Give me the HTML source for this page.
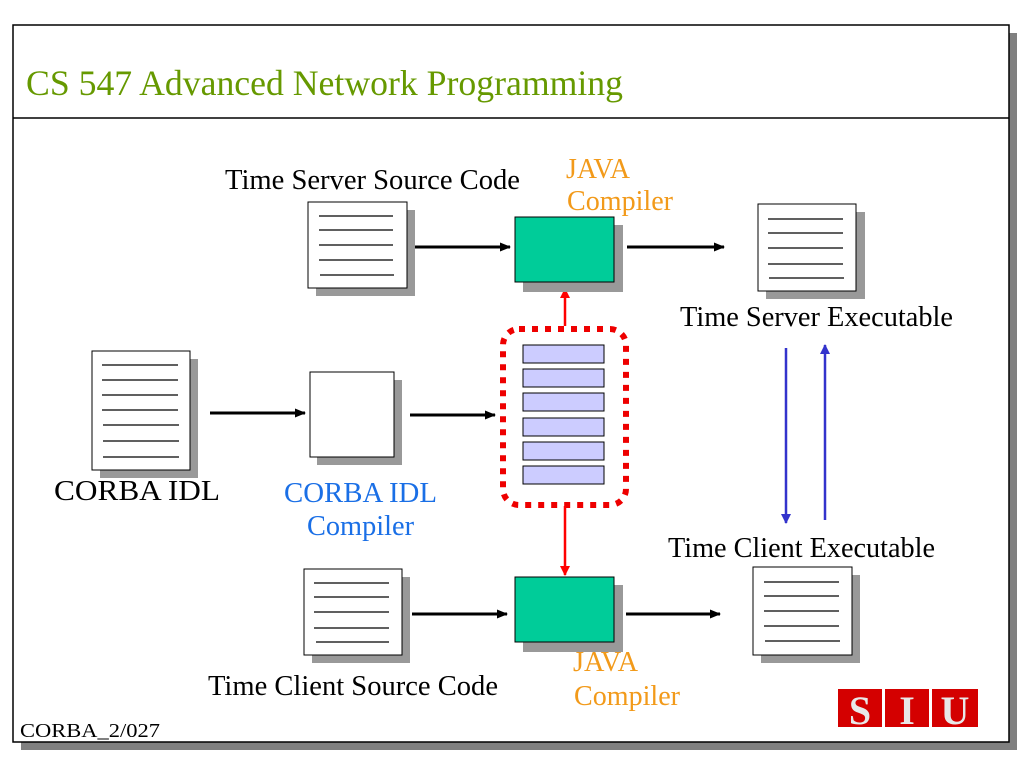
<!DOCTYPE html>
<html><head><meta charset="utf-8"><style>
html,body{margin:0;padding:0;background:#fff;width:1024px;height:768px;overflow:hidden}
svg text{font-family:"Liberation Serif",serif}
</style></head><body>
<svg width="1024" height="768" viewBox="0 0 1024 768" xmlns="http://www.w3.org/2000/svg">
<defs>
<marker id="ab" markerWidth="11" markerHeight="9" refX="10" refY="4.5" orient="auto" markerUnits="userSpaceOnUse"><path d="M0,0 L11,4.5 L0,9 z" fill="#000"/></marker>
<marker id="ar" markerWidth="10" markerHeight="10" refX="9" refY="5" orient="auto" markerUnits="userSpaceOnUse"><path d="M0,0 L10,5 L0,10 z" fill="#f00"/></marker>
<marker id="au" markerWidth="10" markerHeight="10" refX="9" refY="5" orient="auto" markerUnits="userSpaceOnUse"><path d="M0,0 L10,5 L0,10 z" fill="#3333cc"/></marker>
</defs>
<rect x="21" y="33" width="996" height="717" fill="#808080"/>
<rect x="13" y="25" width="996" height="717" fill="#fff" stroke="#000" stroke-width="1.5"/>
<line x1="13" y1="118" x2="1009" y2="118" stroke="#000" stroke-width="1.5"/>
<text x="26" y="95" font-size="36" fill="#669900" textLength="597" lengthAdjust="spacingAndGlyphs">CS 547 Advanced Network Programming</text>

<rect x="100" y="359" width="98" height="119" fill="#999"/>
<rect x="92" y="351" width="98" height="119" fill="#fff" stroke="#000"/>
<g stroke="#000" stroke-width="1.2">
<line x1="102" y1="365" x2="178" y2="365"/><line x1="102" y1="380" x2="178" y2="380"/><line x1="102" y1="395" x2="178" y2="395"/><line x1="102" y1="410" x2="178" y2="410"/><line x1="103" y1="425" x2="179" y2="425"/><line x1="103" y1="441" x2="179" y2="441"/><line x1="103" y1="457" x2="179" y2="457"/>
</g>
<text x="54" y="500" font-size="29" textLength="166" lengthAdjust="spacingAndGlyphs">CORBA IDL</text>

<line x1="210" y1="413" x2="305" y2="413" stroke="#000" stroke-width="3" marker-end="url(#ab)"/>
<rect x="317" y="380" width="85" height="85" fill="#999"/>
<rect x="310" y="372" width="84" height="85" fill="#fff" stroke="#000"/>
<text x="284" y="502" font-size="29" fill="#1a6fe6" textLength="153" lengthAdjust="spacingAndGlyphs">CORBA IDL</text>
<text x="307" y="535" font-size="29" fill="#1a6fe6" textLength="107" lengthAdjust="spacingAndGlyphs">Compiler</text>
<line x1="410" y1="415" x2="495" y2="415" stroke="#000" stroke-width="3" marker-end="url(#ab)"/>

<rect x="503" y="329" width="123" height="176" rx="16" fill="none" stroke="#ee0000" stroke-width="6" stroke-dasharray="6 7"/>
<g fill="#ccccff" stroke="#000" stroke-width="1">
<rect x="523" y="345" width="81" height="18"/><rect x="523" y="369" width="81" height="18"/><rect x="523" y="393" width="81" height="18"/><rect x="523" y="418" width="81" height="18"/><rect x="523" y="442" width="81" height="18"/><rect x="523" y="466" width="81" height="18"/>
</g>
<line x1="565" y1="326" x2="565" y2="289" stroke="#f00" stroke-width="2.5" marker-end="url(#ar)"/>
<line x1="565" y1="506" x2="565" y2="575" stroke="#f00" stroke-width="2.5" marker-end="url(#ar)"/>

<text x="225" y="189" font-size="29" textLength="295" lengthAdjust="spacingAndGlyphs">Time Server Source Code</text>
<rect x="316" y="210" width="99" height="86" fill="#999"/>
<rect x="308" y="202" width="99" height="86" fill="#fff" stroke="#000"/>
<g stroke="#000" stroke-width="1.2">
<line x1="319" y1="216" x2="393" y2="216"/><line x1="319" y1="230" x2="393" y2="230"/><line x1="319" y1="245" x2="393" y2="245"/><line x1="319" y1="260" x2="393" y2="260"/><line x1="320" y1="275" x2="394" y2="275"/>
</g>
<line x1="415" y1="247" x2="510" y2="247" stroke="#000" stroke-width="3" marker-end="url(#ab)"/>
<rect x="523" y="225" width="100" height="67" fill="#999"/>
<rect x="515" y="217" width="99" height="65" fill="#00cc99" stroke="#000"/>
<text x="566" y="178" font-size="29" fill="#f29a1a" textLength="64" lengthAdjust="spacingAndGlyphs">JAVA</text>
<text x="567" y="210" font-size="29" fill="#f29a1a" textLength="106" lengthAdjust="spacingAndGlyphs">Compiler</text>
<line x1="627" y1="247" x2="724" y2="247" stroke="#000" stroke-width="3" marker-end="url(#ab)"/>
<rect x="766" y="212" width="99" height="87" fill="#999"/>
<rect x="758" y="204" width="98" height="87" fill="#fff" stroke="#000"/>
<g stroke="#000" stroke-width="1.2">
<line x1="768" y1="219" x2="843" y2="219"/><line x1="768" y1="233" x2="843" y2="233"/><line x1="768" y1="248" x2="843" y2="248"/><line x1="768" y1="264" x2="843" y2="264"/><line x1="769" y1="278" x2="844" y2="278"/>
</g>
<text x="680" y="326" font-size="29" textLength="273" lengthAdjust="spacingAndGlyphs">Time Server Executable</text>

<line x1="786" y1="348" x2="786" y2="523" stroke="#3333cc" stroke-width="2.5" marker-end="url(#au)"/>
<line x1="825" y1="520" x2="825" y2="345" stroke="#3333cc" stroke-width="2.5" marker-end="url(#au)"/>

<text x="668" y="557" font-size="29" textLength="267" lengthAdjust="spacingAndGlyphs">Time Client Executable</text>
<rect x="761" y="575" width="99" height="88" fill="#999"/>
<rect x="753" y="567" width="99" height="88" fill="#fff" stroke="#000"/>
<g stroke="#000" stroke-width="1.2">
<line x1="764" y1="582" x2="839" y2="582"/><line x1="764" y1="596" x2="839" y2="596"/><line x1="764" y1="611" x2="839" y2="611"/><line x1="764" y1="626" x2="839" y2="626"/><line x1="765" y1="641" x2="840" y2="641"/>
</g>
<rect x="312" y="577" width="98" height="86" fill="#999"/>
<rect x="304" y="569" width="98" height="86" fill="#fff" stroke="#000"/>
<g stroke="#000" stroke-width="1.2">
<line x1="314" y1="583" x2="389" y2="583"/><line x1="314" y1="597" x2="389" y2="597"/><line x1="314" y1="612" x2="389" y2="612"/><line x1="314" y1="628" x2="389" y2="628"/><line x1="316" y1="642" x2="389" y2="642"/>
</g>
<text x="208" y="695" font-size="29" textLength="290" lengthAdjust="spacingAndGlyphs">Time Client Source Code</text>
<line x1="412" y1="614" x2="507" y2="614" stroke="#000" stroke-width="3" marker-end="url(#ab)"/>
<rect x="523" y="585" width="100" height="67" fill="#999"/>
<rect x="515" y="577" width="99" height="65" fill="#00cc99" stroke="#000"/>
<text x="573" y="671" font-size="29" fill="#f29a1a" textLength="65" lengthAdjust="spacingAndGlyphs">JAVA</text>
<text x="574" y="705" font-size="29" fill="#f29a1a" textLength="106" lengthAdjust="spacingAndGlyphs">Compiler</text>
<line x1="626" y1="614" x2="720" y2="614" stroke="#000" stroke-width="3" marker-end="url(#ab)"/>

<text x="20" y="737" font-size="20" textLength="140" lengthAdjust="spacingAndGlyphs">CORBA_2/027</text>
<g>
<rect x="838" y="689" width="44" height="38" fill="#d40000"/>
<rect x="885" y="689" width="44" height="38" fill="#d40000"/>
<rect x="932" y="689" width="46" height="38" fill="#d40000"/>
<text x="860" y="724" font-size="40" font-weight="bold" fill="#e8e8e8" text-anchor="middle">S</text>
<text x="907" y="724" font-size="40" font-weight="bold" fill="#e8e8e8" text-anchor="middle">I</text>
<text x="955" y="724" font-size="40" font-weight="bold" fill="#e8e8e8" text-anchor="middle">U</text>
</g>
</svg>
</body></html>
